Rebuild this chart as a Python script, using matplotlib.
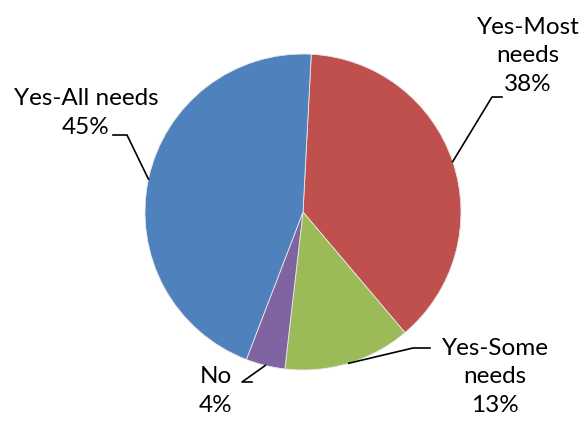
import numpy as np
import matplotlib.pyplot as plt

labels = ['Yes-Most\nneeds', 'Yes-Some\nneeds', 'No', 'Yes-All needs']
values = [38, 13, 4, 45]
colors = ['#C0504D', '#9BBB59', '#8064A2', '#4F81BD']

# text box centres (pixels) and the elbow of each leader line
label_pos = [(528, 56), (495, 377), (216, 391), (86, 113)]
elbow = [(492, 97), (413, 348), (242, 382), (127, 135)]
elbow_end = [(502, 97), (430, 348), (252, 382), (113, 135)]

W, H = 584, 421
cx, cy, R = 303, 212, 158

fig = plt.figure(figsize=(W / 100, H / 100), dpi=100)
ax = fig.add_axes([0, 0, 1, 1])

def to_data(p):
    return ((p[0] - cx) / R, (cy - p[1]) / R)

wedges, _ = ax.pie(values, colors=colors, startangle=87, counterclock=False,
                   radius=1, center=(0, 0),
                   wedgeprops=dict(edgecolor='#e8e8e8', linewidth=0.6))

for w, lab, v, lp, e0, e1 in zip(wedges, labels, values, label_pos, elbow, elbow_end):
    ang = np.deg2rad((w.theta1 + w.theta2) / 2)
    tip = (np.cos(ang), np.sin(ang))
    a = to_data(e0)
    b = to_data(e1)
    ax.plot([tip[0], a[0], b[0]], [tip[1], a[1], b[1]], color='black', lw=1.2)
    tx, ty = to_data(lp)
    ax.text(tx, ty, f'{lab}\n{v}%', ha='center', va='center', fontsize=17.5,
            family='Lato', linespacing=1.42)

ax.set_xlim(-cx / R, (W - cx) / R)
ax.set_ylim((cy - H) / R, cy / R)
ax.set_aspect('equal')
ax.axis('off')
fig.savefig('out.png', dpi=100)
